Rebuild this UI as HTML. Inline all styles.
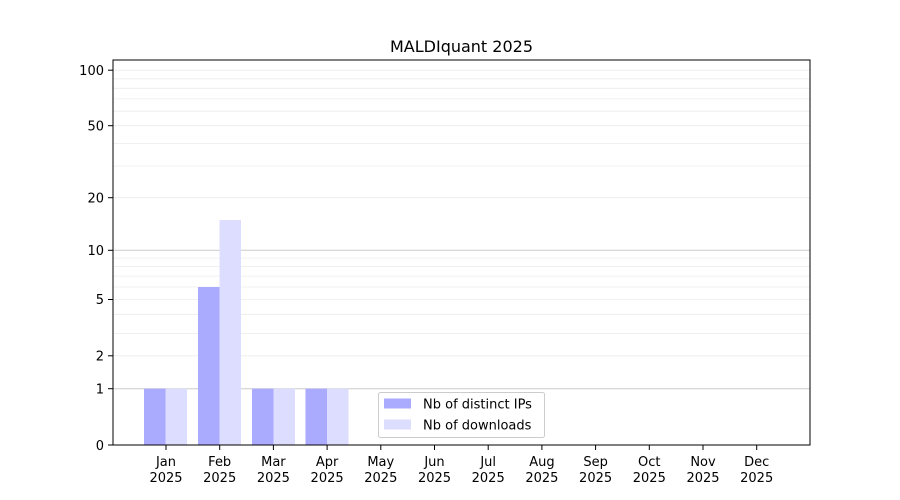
<!DOCTYPE html>
<html><head><meta charset="utf-8"><style>body{margin:0;background:#fff}svg{display:block}text{font-family:"DejaVu Sans","Liberation Sans",sans-serif;fill:#000}</style></head>
<body>
<svg width="900" height="500" viewBox="0 0 900 500" xmlns="http://www.w3.org/2000/svg">
<g stroke="#ececec" stroke-width="0.8">
<line x1="113" x2="810" y1="333.6" y2="333.6"/>
<line x1="113" x2="810" y1="314.3" y2="314.3"/><line x1="113" x2="810" y1="299.5" y2="299.5"/>
<line x1="113" x2="810" y1="287" y2="287"/><line x1="113" x2="810" y1="276.1" y2="276.1"/>
<line x1="113" x2="810" y1="266.6" y2="266.6"/><line x1="113" x2="810" y1="258.1" y2="258.1"/>
<line x1="113" x2="810" y1="355.8" y2="355.8"/><line x1="113" x2="810" y1="197.7" y2="197.7"/>
<line x1="113" x2="810" y1="166" y2="166"/><line x1="113" x2="810" y1="143.4" y2="143.4"/>
<line x1="113" x2="810" y1="125.7" y2="125.7"/><line x1="113" x2="810" y1="111.2" y2="111.2"/>
<line x1="113" x2="810" y1="98.9" y2="98.9"/><line x1="113" x2="810" y1="88.3" y2="88.3"/>
<line x1="113" x2="810" y1="78.8" y2="78.8"/><line x1="113" x2="810" y1="70.2" y2="70.2"/>
</g>
<g stroke="#cccccc" stroke-width="1">
<line x1="113" x2="810" y1="388.7" y2="388.7"/><line x1="113" x2="810" y1="250.3" y2="250.3"/>
</g>
<g>
<rect x="144" y="388.7" width="21.5" height="56.3" fill="#aaaaff"/>
<rect x="165.5" y="388.7" width="21.5" height="56.3" fill="#ddddff"/>
<rect x="198" y="287" width="21.5" height="158" fill="#aaaaff"/>
<rect x="219.5" y="220" width="21.5" height="225" fill="#ddddff"/>
<rect x="252" y="388.7" width="21.5" height="56.3" fill="#aaaaff"/>
<rect x="273.5" y="388.7" width="21.5" height="56.3" fill="#ddddff"/>
<rect x="305.5" y="388.7" width="21.5" height="56.3" fill="#aaaaff"/>
<rect x="327" y="388.7" width="21.5" height="56.3" fill="#ddddff"/>
</g>
<rect x="113" y="60" width="697" height="385" fill="none" stroke="#000" stroke-width="1"/>
<g stroke="#000"><line x1="108" x2="113" y1="445" y2="445"/><line x1="108" x2="113" y1="388.7" y2="388.7"/><line x1="108" x2="113" y1="355.8" y2="355.8"/><line x1="108" x2="113" y1="299.5" y2="299.5"/><line x1="108" x2="113" y1="250.3" y2="250.3"/><line x1="108" x2="113" y1="197.7" y2="197.7"/><line x1="108" x2="113" y1="125.7" y2="125.7"/><line x1="108" x2="113" y1="70.2" y2="70.2"/></g>
<g font-size="13" text-anchor="end">
<text x="104" y="450">0</text><text x="104" y="393.5">1</text><text x="104" y="360.5">2</text><text x="104" y="304">5</text><text x="104" y="255">10</text><text x="104" y="202.5">20</text><text x="104" y="130.5">50</text><text x="104" y="75">100</text>
</g>
<g stroke="#000">
<line x1="166" x2="166" y1="445" y2="450"/><line x1="219.7" x2="219.7" y1="445" y2="450"/><line x1="273.4" x2="273.4" y1="445" y2="450"/><line x1="327.1" x2="327.1" y1="445" y2="450"/><line x1="380.8" x2="380.8" y1="445" y2="450"/><line x1="434.5" x2="434.5" y1="445" y2="450"/><line x1="488.2" x2="488.2" y1="445" y2="450"/><line x1="541.9" x2="541.9" y1="445" y2="450"/><line x1="595.6" x2="595.6" y1="445" y2="450"/><line x1="649.3" x2="649.3" y1="445" y2="450"/><line x1="703" x2="703" y1="445" y2="450"/><line x1="756.7" x2="756.7" y1="445" y2="450"/>
</g>
<g font-size="13" text-anchor="middle">
<text x="166" y="466">Jan</text><text x="166" y="482">2025</text>
<text x="219.7" y="466">Feb</text><text x="219.7" y="482">2025</text>
<text x="273.4" y="466">Mar</text><text x="273.4" y="482">2025</text>
<text x="327.1" y="466">Apr</text><text x="327.1" y="482">2025</text>
<text x="380.8" y="466">May</text><text x="380.8" y="482">2025</text>
<text x="434.5" y="466">Jun</text><text x="434.5" y="482">2025</text>
<text x="488.2" y="466">Jul</text><text x="488.2" y="482">2025</text>
<text x="541.9" y="466">Aug</text><text x="541.9" y="482">2025</text>
<text x="595.6" y="466">Sep</text><text x="595.6" y="482">2025</text>
<text x="649.3" y="466">Oct</text><text x="649.3" y="482">2025</text>
<text x="703" y="466">Nov</text><text x="703" y="482">2025</text>
<text x="756.7" y="466">Dec</text><text x="756.7" y="482">2025</text>
</g>
<text x="461.5" y="52" font-size="16" text-anchor="middle">MALDIquant 2025</text>
<rect x="378.5" y="392.5" width="166" height="45" rx="2" fill="#fff" fill-opacity="0.8" stroke="#cccccc"/>
<rect x="384" y="398.5" width="27" height="10" fill="#aaaaff"/>
<rect x="384" y="419.5" width="27" height="10" fill="#ddddff"/>
<text x="423" y="408.5" font-size="13">Nb of distinct IPs</text>
<text x="423" y="429.5" font-size="13">Nb of downloads</text>
</svg>
</body></html>
